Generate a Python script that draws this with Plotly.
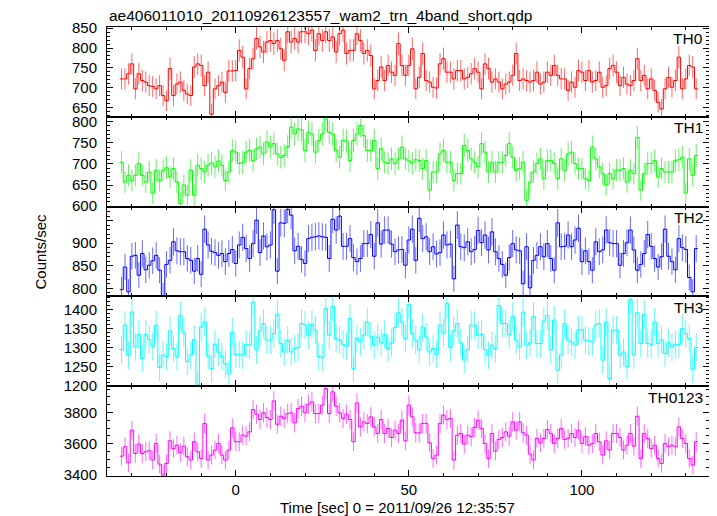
import plotly.graph_objects as go

# ---- data (1-s bins, first bin centre at t = -33 s) ----
bin_start = -33
bin_width = 1.0

th0 = [722,722,735,760,697,735,718,714,705,703,697,705,680,667,748,680,709,714,693,684,
       680,752,760,756,705,739,633,697,705,714,688,742,742,743,794,777,697,748,773,824,
       803,790,815,819,811,819,798,769,841,815,824,815,841,841,836,845,794,836,819,841,
       819,828,790,836,845,786,794,794,836,819,786,794,781,697,718,752,718,756,739,731,
       811,756,731,
       756,798,697,726,786,718,714,701,699,760,773,739,739,722,743,743,722,726,735,748,
       739,697,760,748,714,722,714,697,709,714,731,786,718,722,718,714,718,739,709,714,
       739,731,756,731,722,722,693,714,701,743,739,718,743,714,718,739,701,705,748,756,
       739,705,726,709,705,718,773,718,731,697,722,693,663,646,697,726,701,718,777,697,
       722,756,752,697]

th1 = [704,657,673,661,673,701,673,657,681,631,685,661,685,691,669,689,657,606,650,626,
       685,626,697,689,681,697,702,693,707,697,661,681,732,728,701,704,728,732,708,736,
       740,724,752,740,748,724,716,720,741,787,771,783,781,732,775,771,728,756,771,807,
       775,771,732,716,756,754,708,756,771,791,767,732,732,756,689,736,704,701,712,701,
       712,740,712,
       707,702,710,708,689,708,638,681,681,724,732,704,704,661,677,677,744,732,712,704,
       693,748,728,681,704,681,704,704,720,748,716,685,689,704,614,657,681,701,712,665,
       708,708,701,665,712,685,724,728,701,689,689,665,661,740,712,693,677,650,677,665,
       686,685,689,657,685,677,763,638,677,701,701,708,669,689,681,681,681,708,710,716,
       631,712,673,720]

th2 = [797,847,792,871,873,829,877,841,851,861,873,840,784,853,862,903,883,881,881,866,
       862,838,866,831,931,896,882,879,873,877,859,877,886,855,896,913,888,866,899,951,
       879,916,892,896,974,838,945,944,975,962,883,893,864,855,910,913,914,916,914,913,
       866,953,929,960,893,893,910,868,859,866,899,899,919,871,945,898,929,929,898,881,
       885,886,851,
       907,931,862,955,910,914,881,892,876,879,918,896,898,821,940,892,890,903,881,886,
       928,901,918,885,925,881,866,853,829,868,899,885,883,810,892,801,862,873,892,870,
       899,866,840,945,892,893,918,892,907,933,859,883,859,840,903,881,885,929,901,899,
       899,851,877,901,929,885,840,853,877,919,893,866,847,870,931,871,859,841,910,890,
       886,824,792,888]

th3 = [1295,1359,1281,1393,1302,1335,1272,1335,1321,1304,1359,1249,1281,1277,1344,1298,1277,1384,1339,1264,
       1281,1321,1203,1354,1367,1278,1246,1309,1289,1277,1258,1232,1341,1283,1283,1281,1309,1307,1419,1294,
       1344,1363,1320,1320,1337,1387,1311,1289,1320,1289,1298,1301,1363,1359,1333,1361,1346,1277,1275,1402,
       1333,1408,1324,1320,1309,1304,1376,1246,1324,1315,1333,1367,1330,1307,1328,1313,1335,1298,1313,1353,
       1391,1367,1324,
       1413,1337,1320,1295,1354,1328,1289,1298,1283,1359,1339,1416,1301,1344,1363,1313,1268,1295,1359,1359,
       1333,1335,1295,1281,1307,1298,1410,1363,1363,1335,1382,1320,1304,1393,1307,1313,1382,1311,1311,1370,
       1384,1295,1372,1242,1281,1363,1320,1315,1307,1346,1347,1320,1318,1315,1359,1363,1268,1367,1220,1346,
       1346,1281,1289,1251,1425,1281,1391,1311,1387,1311,1309,1367,1311,1321,1285,1313,1302,1309,1309,1350,
       1337,1324,1244,1301]

th0123 = [3521,3581,3479,3687,3538,3598,3538,3549,3555,3496,3602,3470,3400,3474,3619,3570,3591,3543,3585,3517,
          3496,3613,3549,3506,3730,3496,3528,3560,3602,3528,3496,3560,3702,3613,3613,3655,3649,3676,3819,3789,
          3755,3798,3768,3755,3874,3725,3776,3762,3793,3798,3734,3825,3840,3798,3853,3868,3793,3793,3847,3953,
          3793,3932,3840,3798,3762,3789,3755,3613,3861,3708,3740,3730,3772,3708,3666,3755,3666,3698,3640,3687,
          3666,3751,3619,
          3847,3772,3670,3670,3730,3730,3606,3506,3528,3730,3783,3755,3762,3496,3655,3666,3598,3655,3645,3704,
          3751,3698,3602,3506,3666,3553,3628,3640,3676,3649,3740,3687,3740,3670,3655,3534,3496,3634,3606,3634,
          3691,3666,3602,3634,3698,3628,3634,3666,3640,3687,3602,3645,3591,3602,3666,3613,3528,3619,3560,3666,
          3666,3640,3560,3591,3666,3585,3776,3506,3666,3634,3570,3591,3506,3474,3602,3581,3591,3581,3708,3634,
          3602,3506,3464,3613]

panel_names = ["TH0", "TH1", "TH2", "TH3", "TH0123"]
series = [th0, th1, th2, th3, th0123]
line_colors = ["#ff0000", "#00ff00", "#0000ff", "#00ffff", "#ff00ff"]
err_colors = ["rgba(255,0,0,0.6)", "rgba(0,230,0,0.6)", "rgba(0,0,255,0.6)",
              "rgba(0,240,240,0.6)", "rgba(255,0,255,0.6)"]
y_ranges = [[626.4, 853], [599, 811.7], [782, 981], [1200, 1433.7], [3394, 3968]]
y_tick0 = [650, 600, 800, 1200, 3400]
y_dtick = [50, 50, 50, 50, 200]
y_minor = [10, 10, 10, 10, 50]
hidden_label = (2, 950)     # panel index, tick value whose label is not printed
x_range = [-37.2, 136.7]

title_text = "ae406011010_20110926123557_wam2_trn_4band_short.qdp"
x_title = "Time [sec] 0 = 2011/09/26 12:35:57"
y_title = "Counts/sec"

# ---- figure (page has an 8 px body margin; positions below are page pixels) ----
OFF = 8
PAGE_W, PAGE_H = 717, 516
PL, PR, PT, PB = 107, 709, 27, 476          # plot area in page pixels
W, H = PAGE_W - OFF, PAGE_H - OFF
L, T = PL - OFF, PT - OFF
R, B = W - (PR - OFF), H - (PB - OFF)
pw, ph = PR - PL, PB - PT
FONT = "Liberation Sans, Arial, Helvetica, sans-serif"
n_p = len(series)


def px_x(px):
    return (px - PL) / pw


def px_y(py):
    return (PB - py) / ph


fig = go.Figure()
layout = dict(width=W, height=H, margin=dict(l=L, r=R, t=T, b=B, pad=0, autoexpand=False),
              paper_bgcolor="white", plot_bgcolor="white", showlegend=False,
              font=dict(family=FONT, size=15, color="black"))

for i, vals in enumerate(series):
    n = len(vals)
    centers = [bin_start + k * bin_width for k in range(n)]
    edges = [bin_start - bin_width / 2 + k * bin_width for k in range(n + 1)]
    sfx = "" if i == 0 else str(i + 1)
    xa, ya = "x" + sfx, "y" + sfx
    fig.add_trace(go.Scatter(
        x=centers, y=vals, mode="markers",
        marker=dict(size=1, color="rgba(0,0,0,0)"),
        error_y=dict(type="data", array=[v ** 0.5 for v in vals], color=err_colors[i],
                     thickness=1, width=0),
        xaxis=xa, yaxis=ya, hoverinfo="skip"))
    fig.add_trace(go.Scatter(
        x=edges, y=list(vals) + [vals[-1]], mode="lines",
        line=dict(shape="hv", color=line_colors[i], width=1),
        xaxis=xa, yaxis=ya, hoverinfo="skip"))

    top = 1 - i / n_p
    bot = 1 - (i + 1) / n_p
    layout["xaxis" + sfx] = dict(
        domain=[0, 1], anchor=ya, range=x_range, showgrid=False, zeroline=False,
        showline=True, linecolor="black", linewidth=1, mirror="ticks",
        ticks="inside", ticklen=6, tickcolor="black", tickwidth=1,
        tickmode="linear", tick0=0, dtick=50,
        minor=dict(ticks="inside", ticklen=3, tickcolor="black", dtick=10, tick0=0),
        showticklabels=(i == n_p - 1), tickfont=dict(size=15, family=FONT),
        ticklabelstandoff=0, automargin=False,
        matches=None if i == 0 else "x")
    layout["yaxis" + sfx] = dict(
        domain=[bot, top], anchor=xa, range=y_ranges[i], showgrid=False, zeroline=False,
        showline=True, linecolor="black", linewidth=1, mirror="ticks",
        ticks="inside", ticklen=6, tickcolor="black", tickwidth=1,
        tickmode="linear", tick0=y_tick0[i], dtick=y_dtick[i],
        minor=dict(ticks="inside", ticklen=3, tickcolor="black",
                   dtick=y_minor[i], tick0=0),
        tickfont=dict(size=15, family=FONT), ticklabelstandoff=6, automargin=False)

# cover the one tick label that the reference leaves unprinted (tick mark stays)
hp, hv = hidden_label
r0, r1 = y_ranges[hp]
p_top = 1 - hp / n_p
p_bot = 1 - (hp + 1) / n_p
yc = p_bot + (hv - r0) / (r1 - r0) * (p_top - p_bot)
shapes = [dict(type="rect", xref="paper", yref="paper", layer="above",
               x0=px_x(62), x1=px_x(101), y0=yc - 6.5 / ph, y1=yc + 6.5 / ph,
               fillcolor="white", line=dict(width=0))]
layout["shapes"] = shapes

anns = []
for i, name in enumerate(panel_names):
    py = PT + i * ph / n_p + 11
    anns.append(dict(text=name, xref="paper", yref="paper", x=px_x(705), y=px_y(py),
                     xanchor="right", yanchor="middle", showarrow=False,
                     font=dict(size=15.5, family=FONT)))
anns.append(dict(text=title_text, xref="paper", yref="paper", x=0, y=px_y(15.5),
                 xanchor="left", yanchor="middle", showarrow=False,
                 font=dict(size=15.5, family=FONT)))
anns.append(dict(text=x_title, xref="paper", yref="paper", x=px_x(397.5), y=px_y(507),
                 xanchor="center", yanchor="middle", showarrow=False,
                 font=dict(size=15, family=FONT)))
anns.append(dict(text=y_title, xref="paper", yref="paper", x=px_x(40), y=0.5,
                 xanchor="center", yanchor="middle", textangle=-90,
                 showarrow=False, font=dict(size=15, family=FONT)))
layout["annotations"] = anns
fig.update_layout(**layout)
fig.write_html("out.html")
